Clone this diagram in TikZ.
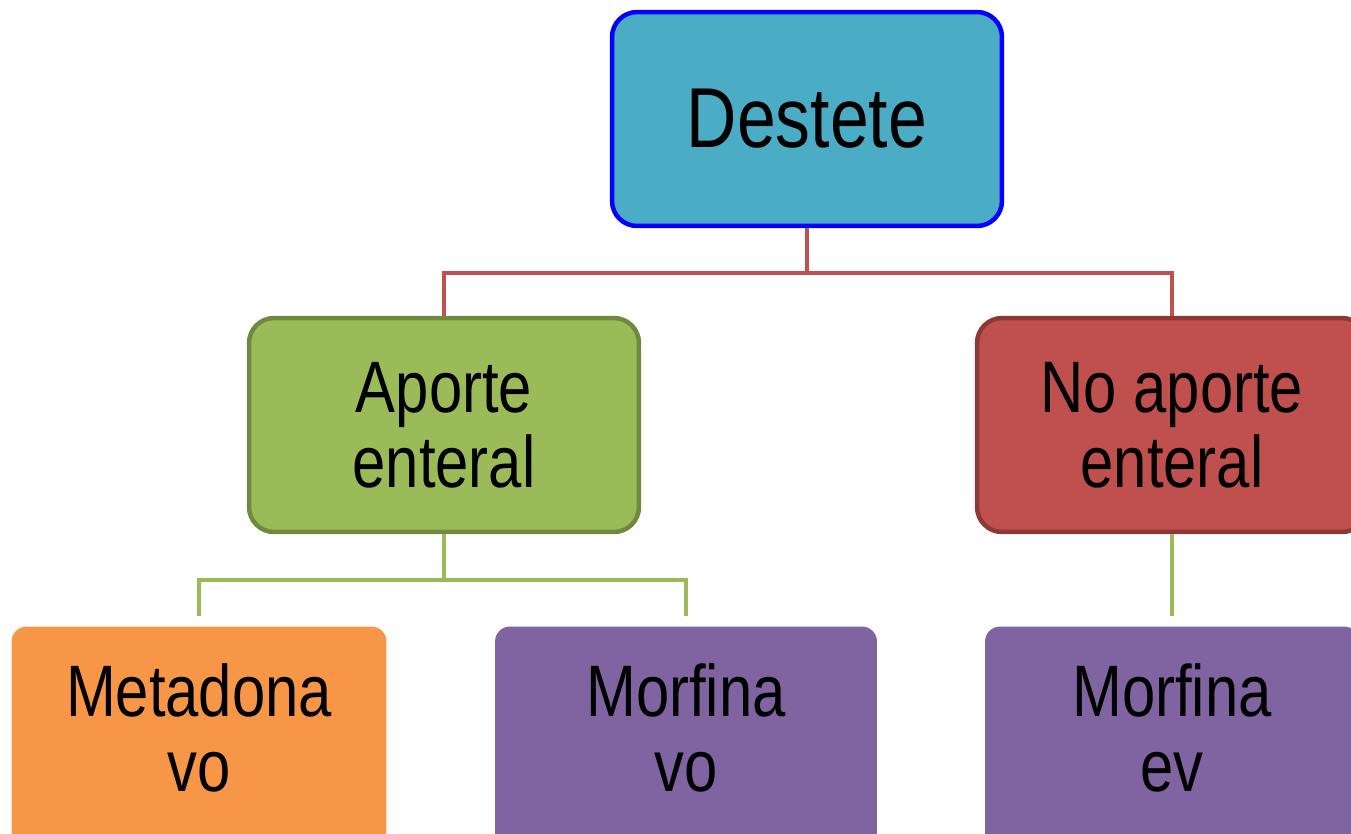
\documentclass[tikz,border=0pt]{standalone}
\usepackage{fontspec}
\setmainfont{Liberation Sans}[FakeStretch=0.82]
\definecolor{turquesa}{HTML}{4BACC6}
\definecolor{verde}{HTML}{9BBB59}
\definecolor{verdeosc}{HTML}{71893F}
\definecolor{rojo}{HTML}{C0504D}
\definecolor{rojoosc}{HTML}{8C3836}
\definecolor{naranja}{HTML}{F79646}
\definecolor{morado}{HTML}{8064A2}
\begin{document}
\begin{tikzpicture}[x=0.02cm,y=-0.02cm,
	caja/.style={rounded corners=0.5cm,line width=0.09cm,minimum height=4.28cm,align=center,font=\fontsize{41.5}{42.7}\selectfont},
	hoja/.style={rounded corners=0.3cm,minimum height=4.5cm,text depth=0.45cm,align=center,font=\fontsize{41.5}{42.7}\selectfont},
	rama/.style={line width=0.08cm}]
	\useasboundingbox (0,0) rectangle (1351,833);
	\clip (0,0) rectangle (1351,833);
	% nivel 1
	\node[caja,draw=blue,fill=turquesa,minimum width=7.8cm,font=\fontsize{48.4}{50}\selectfont] (dest) at (807,119) {Destete};
	% nivel 2
	\node[caja,draw=verdeosc,fill=verde,minimum width=7.8cm] (aporte) at (444,425) {Aporte\\enteral};
	\node[caja,draw=rojoosc,fill=rojo,minimum width=7.8cm] (noaporte) at (1172,425) {No aporte\\enteral};
	% nivel 3
	\node[hoja,fill=naranja,minimum width=7.5cm] (metadona) at (199,739) {Metadona\\vo};
	\node[hoja,fill=morado,minimum width=7.64cm] (morfvo) at (686,739) {Morfina\\vo};
	\node[hoja,fill=morado,minimum width=7.48cm] (morfev) at (1172,739) {Morfina\\ev};
	% ramas
	\draw[rama,rojo] (dest.south) -- ++(0,45) -| (aporte.north);
	\draw[rama,rojo] (dest.south) -- ++(0,45) -| (noaporte.north);
	\draw[rama,verde,shorten >=0.2cm] (aporte.south) -- ++(0,46) -| (metadona.north);
	\draw[rama,verde,shorten >=0.2cm] (aporte.south) -- ++(0,46) -| (morfvo.north);
	\draw[rama,verde,shorten >=0.2cm] (noaporte.south) -- (morfev.north);
\end{tikzpicture}
\end{document}
